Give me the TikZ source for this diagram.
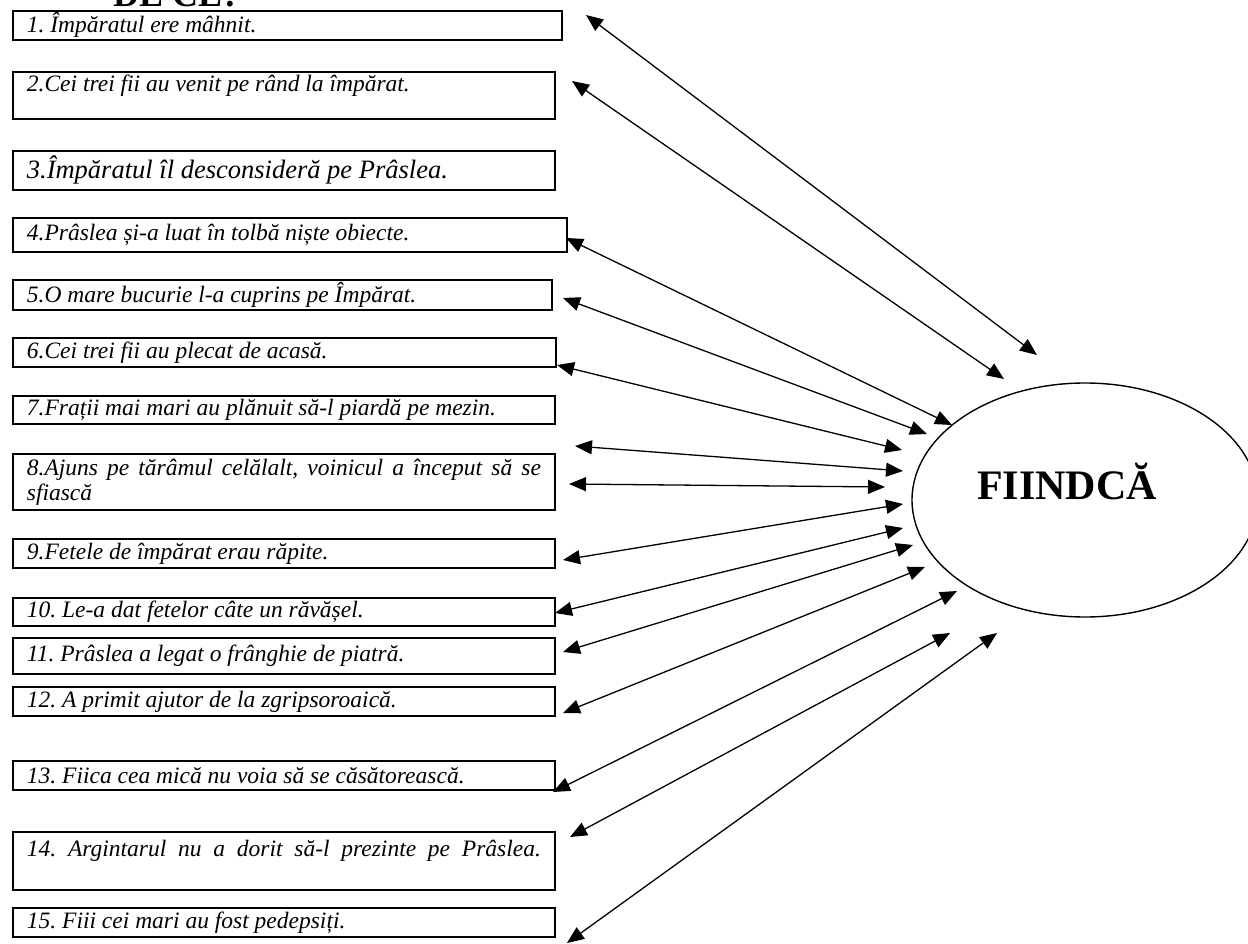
\documentclass[tikz,border=0pt]{standalone}
\usepackage{fontspec}
\setmainfont{Liberation Serif}
\usetikzlibrary{arrows.meta,shapes.geometric}
\hyphenpenalty=10000
\frenchspacing

\begin{document}
\begin{tikzpicture}[x=1pt,y=-1pt]
        \useasboundingbox (0,0) rectangle (1248,944);
        \node[anchor=base west,inner sep=0pt,font=\fontsize{36}{36}\selectfont\bfseries] (title) at (113,7) {DE CE?};
        \begin{scope}[every node/.style={draw,line width=1.8pt,anchor=north west,inner xsep=14pt,inner ysep=0pt,
                align=justify,text width=514pt,font=\fontsize{23.5}{25}\selectfont\itshape}]
            \node[text width=521pt,minimum height=29pt] (b1)  at (12,10)  {1. Împăratul ere mâhnit.};
            \node[minimum height=47pt] (b2)  at (12,71)  {2.Cei trei fii au venit pe rând la împărat.\\\mbox{}};
            \node[minimum height=39pt,font=\fontsize{26.5}{28}\selectfont\itshape] (b3)  at (12,150) {3.Împăratul îl desconsideră pe Prâslea.};
            \node[text width=526pt,minimum height=34pt] (b4)  at (12,217) {4.Prâslea și-a luat în tolbă niște obiecte.};
            \node[text width=511pt,minimum height=30pt] (b5)  at (12,279) {5.O mare bucurie l-a cuprins pe Împărat.};
            \node[text width=515pt,minimum height=29pt] (b6)  at (12,337) {6.Cei trei fii au plecat de acasă.};
            \node[minimum height=28pt] (b7)  at (12,395) {7.Frații mai mari au plănuit să-l piardă pe mezin.};
            \node[minimum height=56pt] (b8)  at (12,453) {8.Ajuns pe tărâmul celălalt, voinicul a început să se sfiască};
            \node[minimum height=29pt] (b9)  at (12,538) {9.Fetele de împărat erau răpite.};
            \node[minimum height=28pt] (b10) at (12,597) {10. Le-a dat fetelor câte un răvășel.};
            \node[minimum height=36pt] (b11) at (12,637) {11. Prâslea a legat o frânghie de piatră.};
            \node[minimum height=29pt] (b12) at (12,686) {12. A primit ajutor de la zgripsoroaică.};
            \node[minimum height=29pt] (b13) at (12,760) {13. Fiica cea mică nu voia să se căsătorească.};
            \node[minimum height=58pt] (b14) at (12,831) {14. Argintarul nu a dorit să-l prezinte pe Prâslea.\linebreak\mbox{}};
            \node[minimum height=29pt] (b15) at (12,907) {15. Fiii cei mari au fost pedepsiți.};
        \end{scope}
        \node[ellipse,draw,line width=1.4pt,minimum width=346pt,minimum height=234pt,inner sep=0pt,
            label={[xshift=-18pt,yshift=19pt,font=\fontsize{42}{42}\selectfont\bfseries]center:FIINDCĂ}] (fi) at (1085,500) {};
        \foreach \n/\lx/\ly/\rx/\ry in {1/586/15/1037/355, 2/572/81/1004/379, 4/566/238/952/425, 5/563/298/927/434,
                6/557/365/902/450, 7/575/446/903/471, 8/569/484/885/487, 9/563/560/903/504, 10/555/613/903/528,
                11/563/652/913/545, 12/563/713/925/567, 13/553/792/957/591, 14/570/837/950/633, 15/567/943/997/633} {
            \coordinate (l\n) at (\lx,\ly);
            \coordinate (r\n) at (\rx,\ry);
        }
        \begin{scope}[line width=1.3pt,{Triangle[length=17pt,width=14pt]}-{Triangle[length=17pt,width=14pt]}]
            \foreach \n in {1,2,4,5,6,7,8,9,10,11,12,13,14,15} {\draw (l\n)--(r\n);}
        \end{scope}
    \end{tikzpicture}
\end{document}
